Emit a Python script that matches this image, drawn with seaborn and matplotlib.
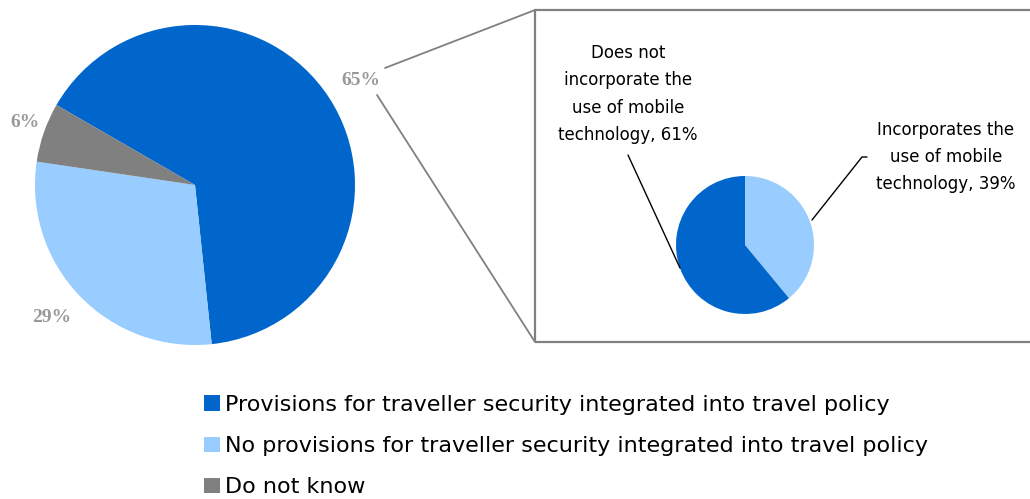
import matplotlib
matplotlib.use('Agg')
import matplotlib.pyplot as plt
import seaborn as sns
from matplotlib.patches import Rectangle

# Main pie: travel policy and traveller security
policy_labels = ['Provisions for traveller security integrated into travel policy',
                 'No provisions for traveller security integrated into travel policy',
                 'Do not know']
policy_values = [65, 29, 6]

# Breakdown of the 65% slice
mobile_labels = ['Incorporates the\nuse of mobile\ntechnology, 39%',
                 'Does not\nincorporate the\nuse of mobile\ntechnology, 61%']
mobile_values = [39, 61]

sns.set_theme(style='white')
colors = sns.color_palette(['#0066CC', '#99CCFF', '#808080'])

fig = plt.figure(figsize=(10.3, 4.99), dpi=100)
ax = fig.add_axes([0, 0, 1, 1])

# big pie (pixel coords, y measured from bottom)
wedges, _ = ax.pie(policy_values, colors=colors, startangle=150, counterclock=False,
                   center=(195, 314), radius=160, frame=True,
                   wedgeprops=dict(linewidth=0))

pct_style = dict(fontsize=14, fontweight='bold', color='#999999',
                 family='Liberation Serif', ha='center', va='center')
ax.text(361, 419, f'{policy_values[0]}%', **pct_style)
ax.text(25, 377, f'{policy_values[2]}%', **pct_style)
ax.text(52, 181, f'{policy_values[1]}%', **pct_style)

# small pie
ax.pie(mobile_values, colors=[colors[1], colors[0]], startangle=90, counterclock=False,
       center=(745, 254), radius=69, frame=True, wedgeprops=dict(linewidth=0))

ax.set_xlim(0, 1030)
ax.set_ylim(0, 499)
ax.set_aspect('equal')
ax.axis('off')

# zoom box and connector lines
ax.add_patch(Rectangle((535, 157), 520, 332, fill=False, edgecolor='#808080', lw=1.6))
ax.plot([385, 535], [431, 489], color='#808080', lw=1.3)
ax.plot([377, 535], [404, 157], color='#808080', lw=1.3)

small_style = dict(fontsize=12, color='black', ha='center', va='center',
                   family='DejaVu Sans', linespacing=1.66)
ax.text(628, 405, mobile_labels[1], **small_style)
ax.text(946, 342, mobile_labels[0], **small_style)
ax.plot([628, 680], [344, 231], color='black', lw=1)
ax.plot([812, 862, 867], [279, 342, 342], color='black', lw=1)

ax.legend(wedges, policy_labels, loc='upper left', bbox_to_anchor=(204, 104),
          bbox_transform=ax.transData, frameon=False, fontsize=16,
          labelcolor='black',
          handlelength=0.7, handleheight=0.7, handletextpad=0.25,
          labelspacing=0.95, borderpad=0, borderaxespad=0)

fig.savefig('out.png', dpi=100)
